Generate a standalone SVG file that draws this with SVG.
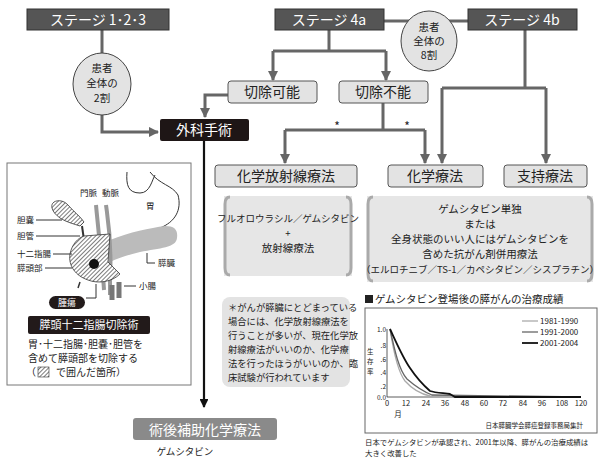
<svg xmlns="http://www.w3.org/2000/svg" width="600" height="468" viewBox="0 0 600 468">
<style>
text{font-family:"Noto Sans CJK JP","Noto Sans",sans-serif;fill:#222}
.stage{fill:#555;stroke:#333}
.stage-t{fill:#fff;font-size:14px;text-anchor:middle}
.lbox{fill:#e3e3e3;stroke:#555;stroke-width:1}
.lbox-t{font-size:14px;text-anchor:middle}
.oval{fill:#e3e3e3;stroke:#444}
.oval-t{font-size:10.5px;text-anchor:middle}
.c{fill:none;stroke:#666;stroke-width:3}
.an{font-size:8.5px}
.al{stroke:#333;stroke-width:1;fill:none}
</style>
<defs>
<marker id="ag" viewBox="0 0 10 10" refX="9" refY="5" markerWidth="3.5" markerHeight="3.5" orient="auto"><path d="M0,0L10,5L0,10z" fill="#666"/></marker>
<marker id="ab" viewBox="0 0 10 10" refX="9" refY="5" markerWidth="4" markerHeight="4" orient="auto"><path d="M0,0L10,5L0,10z" fill="#111"/></marker>
<pattern id="hatch" width="3" height="3" patternUnits="userSpaceOnUse" patternTransform="rotate(45)"><rect width="3" height="3" fill="#fff"/><line x1="0" y1="0" x2="0" y2="3" stroke="#333" stroke-width="1.3"/></pattern>
</defs>
<rect width="600" height="468" fill="#fff"/>

<g id="connectors">
<path class="c" d="M102,30V53"/>
<path class="c" d="M102,115V132H158" marker-end="url(#ag)"/>
<path class="c" d="M384,21H468"/>
<path class="c" d="M329,30V51M273,51H386M273,51V80" marker-end="url(#ag)"/>
<path class="c" d="M386,51V80" marker-end="url(#ag)"/>
<path class="c" d="M228,95H205V117" marker-end="url(#ag)"/>
<path class="c" d="M383,103V130M285,130H425M285,130V163" marker-end="url(#ag)"/>
<path class="c" d="M425,130V163" marker-end="url(#ag)"/>
<path class="c" d="M525,30V88M442,88H546M442,88V163" marker-end="url(#ag)"/>
<path class="c" d="M546,88V163" marker-end="url(#ag)"/>
<path d="M204,141V407" stroke="#111" stroke-width="2.2" fill="none" marker-end="url(#ab)"/>
<text x="337" y="131" font-size="12" text-anchor="middle" font-family="Liberation Sans">*</text>
<text x="407" y="131" font-size="12" text-anchor="middle" font-family="Liberation Sans">*</text>
</g>

<g id="stage123"><rect class="stage" x="27" y="9" width="142" height="21"/><text class="stage-t" x="98" y="25">ステージ 1･2･3</text></g>
<g id="stage4a"><rect class="stage" x="275" y="9" width="109" height="21"/><text class="stage-t" x="329" y="25">ステージ 4a</text></g>
<g id="stage4b"><rect class="stage" x="468" y="9" width="109" height="21"/><text class="stage-t" x="522" y="25">ステージ 4b</text></g>
<g id="oval80"><ellipse class="oval" cx="429" cy="41" rx="28" ry="30"/><text class="oval-t" x="429" y="31">患者</text><text class="oval-t" x="429" y="45">全体の</text><text class="oval-t" x="429" y="59">8割</text></g>
<g id="oval20"><ellipse class="oval" cx="102" cy="84" rx="29" ry="31"/><text class="oval-t" x="102" y="72">患者</text><text class="oval-t" x="102" y="87">全体の</text><text class="oval-t" x="102" y="102">2割</text></g>
<g id="kanou"><rect class="lbox" x="228" y="81" width="89" height="22" rx="3"/><text class="lbox-t" x="272" y="97">切除可能</text></g>
<g id="funou"><rect class="lbox" x="339" y="81" width="89" height="22" rx="3"/><text class="lbox-t" x="383" y="97">切除不能</text></g>
<g id="surgery"><rect x="160" y="119" width="89" height="22" rx="2" fill="#1e1616"/><text class="stage-t" x="204" y="135">外科手術</text></g>
<g id="crt"><rect class="lbox" x="215" y="165" width="142" height="22" rx="3"/><text class="lbox-t" x="286" y="181">化学放射線療法</text></g>
<g id="chemo"><rect class="lbox" x="388" y="165" width="95" height="22" rx="3"/><text class="lbox-t" x="435" y="181">化学療法</text></g>
<g id="support"><rect class="lbox" x="504" y="165" width="83" height="22" rx="3"/><text class="lbox-t" x="545" y="181">支持療法</text></g>

<g id="crt-detail">
<rect x="224" y="196" width="128" height="80" fill="#e6e6e6"/>
<path d="M230,197Q225,197 225,204V268Q225,275 230,275M346,197Q351,197 351,204V268Q351,275 346,275" stroke="#aaa" stroke-width="3" fill="none"/>
<text x="288" y="222" font-size="9.5" text-anchor="middle">フルオロウラシル／ゲムシタビン</text>
<text x="288" y="237" font-size="9.5" text-anchor="middle">+</text>
<text x="288" y="252" font-size="10.5" text-anchor="middle">放射線療法</text>
</g>
<g id="chemo-detail">
<rect x="367" y="196" width="226" height="86" fill="#e6e6e6"/>
<path d="M373,197Q368,197 368,204V274Q368,281 373,281M587,197Q592,197 592,204V274Q592,281 587,281" stroke="#aaa" stroke-width="3" fill="none"/>
<text x="480" y="213" font-size="10.5" text-anchor="middle">ゲムシタビン単独</text>
<text x="480" y="228" font-size="10.5" text-anchor="middle">または</text>
<text x="480" y="243" font-size="10.5" text-anchor="middle">全身状態のいい人にはゲムシタビンを</text>
<text x="480" y="258" font-size="10.5" text-anchor="middle">含めた抗がん剤併用療法</text>
<text x="480" y="273" font-size="9.5" text-anchor="middle">（エルロチニブ／TS-1／カペシタビン／シスプラチン）</text>
</g>

<g id="note">
<rect x="222" y="297" width="128" height="90" rx="8" fill="#e3e3e3"/>
<text x="228" y="311" font-size="9.3">＊がんが膵臓にとどまっている</text>
<text x="228" y="325" font-size="9.3">場合には、化学放射線療法を</text>
<text x="228" y="339" font-size="9.3">行うことが多いが、現在化学放</text>
<text x="228" y="353" font-size="9.3">射線療法がいいのか、化学療</text>
<text x="228" y="367" font-size="9.3">法を行ったほうがいいのか、臨</text>
<text x="228" y="381" font-size="9.3">床試験が行われています</text>
</g>

<g id="adjuvant">
<rect x="133" y="418" width="144" height="22" rx="3" fill="#8a8a8a"/>
<text x="205" y="435" font-size="14" text-anchor="middle" style="fill:#fff">術後補助化学療法</text>
<text x="185" y="455" font-size="9.5" text-anchor="middle">ゲムシタビン</text>
</g>

<g id="anatomy">
<rect x="7" y="163" width="184" height="222" fill="#fff" stroke="#777"/>
<path d="M127,172C126,185 128,193 140,193C150,193 152,180 155,175M150,172C160,185 172,185 178,195C182,210 175,222 160,228C145,234 125,238 110,245" class="al" stroke-width="0.8"/>
<path d="M110,240C130,232 150,228 165,226C175,226 178,230 177,238C176,248 160,248 140,252C128,255 118,258 110,262Z" fill="#bbb"/>
<path d="M96,205C97,215 98,230 102,260L104,290M106,205C108,220 112,240 110,280L110,295" stroke="#999" stroke-width="4" fill="none"/>
<path d="M112,285L112,300M119,282L119,298" stroke="#777" stroke-width="5"/>
<path d="M52,208C50,200 62,198 68,205C74,212 80,216 84,222L80,226C74,224 66,222 60,218C56,215 53,212 52,208Z" fill="url(#hatch)" stroke="#333" stroke-width="0.8"/>
<path d="M82,226L84,240" stroke="#333" stroke-width="2"/>
<path d="M84,236L110,234L108,262L120,274C112,282 98,284 88,280C76,276 68,266 70,254C72,244 78,238 84,236Z" fill="url(#hatch)" stroke="#333" stroke-width="0.8"/>
<circle cx="94" cy="264" r="5" fill="#111"/>
<path d="M80,282L78,288" stroke="#333" stroke-width="1.5"/>
<text class="an" x="80" y="196">門脈</text><text class="an" x="102" y="196">動脈</text>
<text class="an" x="146" y="209">胃</text>
<text class="an" x="17" y="223">胆嚢</text><path class="al" d="M36,220H62"/>
<text class="an" x="17" y="239">胆管</text><path class="al" d="M36,236H80"/>
<text class="an" x="17" y="257">十二指腸</text><path class="al" d="M53,254H72"/>
<text class="an" x="17" y="271">膵頭部</text><path class="al" d="M45,268H72"/>
<text class="an" x="158" y="266">膵臓</text><path class="al" d="M147,253V263H155"/>
<text class="an" x="139" y="289">小腸</text><path class="al" d="M124,286H136"/>
<path class="al" d="M96,284V298H86"/>
<rect x="49" y="296" width="36" height="13" rx="6.5" fill="#221a1a"/>
<text x="67" y="306" font-size="9" text-anchor="middle" style="fill:#fff">腫瘍</text>
<rect x="28" y="316" width="122" height="18" rx="2" fill="#221a1a"/>
<text x="89" y="329" font-size="11" text-anchor="middle" style="fill:#fff">膵頭十二指腸切除術</text>
<text x="28" y="348" font-size="10">胃･十二指腸･胆嚢･胆管を</text>
<text x="28" y="362" font-size="10">含めて膵頭部を切除する</text>
<text x="26" y="376" font-size="10">（　　で囲んだ箇所）</text>
<rect x="38" y="367" width="11" height="10" fill="url(#hatch)" stroke="#333" stroke-width="0.6"/>
</g>

<g id="chart">
<rect x="365" y="295" width="8" height="8" fill="#222"/>
<text x="375" y="303" font-size="10.5">ゲムシタビン登場後の膵がんの治療成績</text>
<rect x="365" y="308" width="232" height="125" fill="#fff" stroke="#666"/>
<path d="M387,329V397H581" stroke="#333" fill="none" stroke-width="0.8"/>
<g font-size="6.5" text-anchor="end">
<text x="386" y="332">1.0</text><text x="386" y="348">.8</text><text x="386" y="362">.6</text><text x="386" y="375">.4</text><text x="386" y="389">.2</text><text x="386" y="400">0.0</text>
</g>
<g font-size="7.5" text-anchor="middle">
<text x="387" y="406">0</text><text x="406" y="406">12</text><text x="426" y="406">24</text><text x="445" y="406">36</text><text x="465" y="406">48</text><text x="484" y="406">60</text><text x="503" y="406">72</text><text x="523" y="406">84</text><text x="542" y="406">96</text><text x="562" y="406">108</text><text x="581" y="406">120</text>
<text x="398" y="417">月</text>
</g>
<text x="367" y="354" font-size="6.5">生</text><text x="367" y="364" font-size="6.5">存</text><text x="367" y="374" font-size="6.5">率</text>
<path d="M390,329C394,355 398,372 405,381C413,390 421,394 430,396L581,397" stroke="#aaa" stroke-width="1.3" fill="none"/>
<path d="M390,329C395,352 399,370 407,379C415,386 422,391 432,395L581,397" stroke="#666" stroke-width="1.3" fill="none"/>
<path d="M390,329C397,344 403,358 410,368C416,377 422,384 430,391C436,393 445,393 450,394L455,397L581,397" stroke="#111" stroke-width="1.8" fill="none"/>
<path d="M522,321H538" stroke="#aaa" stroke-width="1.3"/><text x="540" y="324" font-size="8">1981-1990</text>
<path d="M522,332H538" stroke="#666" stroke-width="1.3"/><text x="540" y="335" font-size="8">1991-2000</text>
<path d="M522,343H538" stroke="#111" stroke-width="1.8"/><text x="540" y="346" font-size="8">2001-2004</text>
<text x="583" y="428" font-size="6.5" text-anchor="end">日本膵臓学会膵癌登録事務局集計</text>
<text x="365" y="445" font-size="7.4">日本でゲムシタビンが承認され、2001年以降、膵がんの治療成績は</text>
<text x="365" y="456" font-size="7.4">大きく改善した</text>
</g>
</svg>
